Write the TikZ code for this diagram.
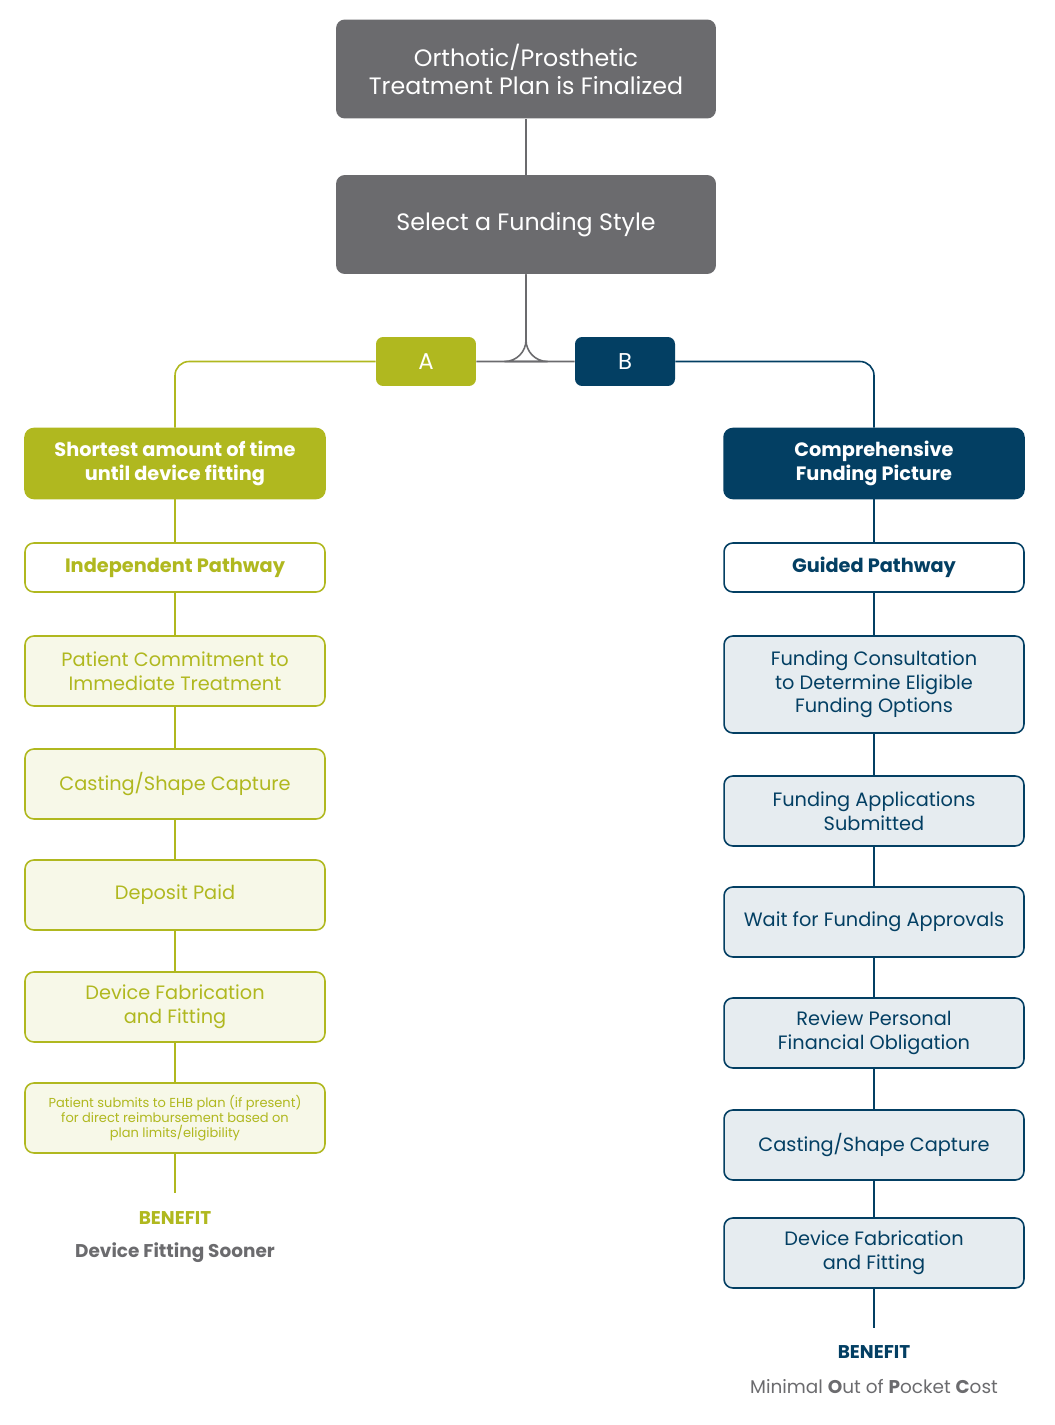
\documentclass[tikz,border=0pt]{standalone}
\usepackage{fontspec}
\setmainfont{Poppins}
\definecolor{greyb}{HTML}{6B6B6E}
\definecolor{olive}{HTML}{B0B81F}
\definecolor{navy}{HTML}{033F63}
\definecolor{olivel}{HTML}{F7F8E8}
\definecolor{navyl}{HTML}{E6ECF0}
\begin{document}
\begin{tikzpicture}%
	[x=0.02cm,y=-0.02cm,
	topbox/.style={draw=none,fill=greyb,rounded corners=5pt,text=white,minimum width=7.6cm,minimum height=1.98cm,align=center,font=\fontsize{13.5}{16}\selectfont},
	tag/.style={rounded corners=4pt,text=white,minimum width=2cm,minimum height=0.98cm,font=\fontsize{13}{15}\selectfont},
	abox/.style={draw=olive,line width=0.9pt,rounded corners=5pt,minimum width=6cm,minimum height=1.4cm,align=center,text=olive,fill=olivel,font=\fontsize{11}{13.5}\selectfont},
	bbox/.style={draw=navy,line width=0.9pt,rounded corners=5pt,minimum width=6cm,minimum height=1.4cm,align=center,text=navy,fill=navyl,font=\fontsize{11}{13.5}\selectfont},
	aline/.style={draw=olive,line width=0.9pt},
	bline/.style={draw=navy,line width=0.9pt},
	gline/.style={draw=greyb,line width=0.9pt}]
%
\useasboundingbox (0,0) rectangle (1054,1425);
\node[topbox] (plan) at (526,69) {Orthotic/Prosthetic\\Treatment Plan is Finalized};
\node[topbox] (style) at (526,224.5) {Select a Funding Style};
\node[tag,fill=olive] (a) at (426,361.5) {A};
\node[tag,fill=navy] (b) at (625,361.5) {B};
%% column A
\node[abox,fill=olive,text=white,font=\fontsize{11}{13.5}\selectfont\bfseries] (a1) at (175,463.5) {Shortest amount of time\\until device fitting};
\node[abox,fill=white,minimum height=0.98cm,font=\fontsize{11}{13.5}\selectfont\bfseries] (a2) at (175,567.5) {Independent Pathway};
\node[abox] (a3) at (175,671) {Patient Commitment to\\Immediate Treatment};
\node[abox] (a4) at (175,784) {Casting/Shape Capture};
\node[abox] (a5) at (175,895) {Deposit Paid};
\node[abox] (a6) at (175,1007) {Device Fabrication\\and Fitting};
\node[abox,font=\fontsize{7.4}{8.6}\selectfont] (a7) at (175,1118) {Patient submits to EHB plan (if present)\\for direct reimbursement based on\\plan limits/eligibility};
\coordinate (aend) at (175,1193);
\node[text=olive,font=\fontsize{10.5}{12}\selectfont\bfseries] (aben) at (175,1218) {BENEFIT};
\node[text=greyb,font=\fontsize{10.5}{12}\selectfont\bfseries] (atxt) at (175,1253) {Device Fitting Sooner};
%% column B
\node[bbox,fill=navy,text=white,font=\fontsize{11}{13.5}\selectfont\bfseries] (b1) at (874,463.5) {Comprehensive\\Funding Picture};
\node[bbox,fill=white,minimum height=0.98cm,font=\fontsize{11}{13.5}\selectfont\bfseries] (b2) at (874,567.5) {Guided Pathway};
\node[bbox,minimum height=1.94cm] (b3) at (874,684.5) {Funding Consultation\\to Determine Eligible\\Funding Options};
\node[bbox] (b4) at (874,811) {Funding Applications\\Submitted};
\node[bbox] (b5) at (874,922) {Wait for Funding Approvals};
\node[bbox] (b6) at (874,1033) {Review Personal\\Financial Obligation};
\node[bbox] (b7) at (874,1145) {Casting/Shape Capture};
\node[bbox] (b8) at (874,1253) {Device Fabrication\\and Fitting};
\coordinate (bend) at (874,1328);
\node[text=navy,font=\fontsize{10.5}{12}\selectfont\bfseries] (bben) at (874,1352) {BENEFIT};
\node[text=greyb,font=\fontsize{10.5}{12}\selectfont] (btxt) at (874,1387) {Minimal \textbf{O}ut of \textbf{P}ocket \textbf{C}ost};
%% connectors
\draw[gline] (plan) -- (style);
\draw[gline] (style.south) -- (526,340) arc (180:90:21.5) -- (a.east);
\draw[gline] (style.south) -- (526,340) arc (0:90:21.5) -- (b.west);
\draw[aline,rounded corners=8pt] (a.west) -- (175,361.5) -- (a1.north);
\draw[bline,rounded corners=8pt] (b.east) -- (874,361.5) -- (b1.north);
\foreach \i/\j in {a1/a2,a2/a3,a3/a4,a4/a5,a5/a6,a6/a7,a7/aend}
  \draw[aline] (\i) -- (\j);
\foreach \i/\j in {b1/b2,b2/b3,b3/b4,b4/b5,b5/b6,b6/b7,b7/b8,b8/bend}
  \draw[bline] (\i) -- (\j);
\end{tikzpicture}
\end{document}
